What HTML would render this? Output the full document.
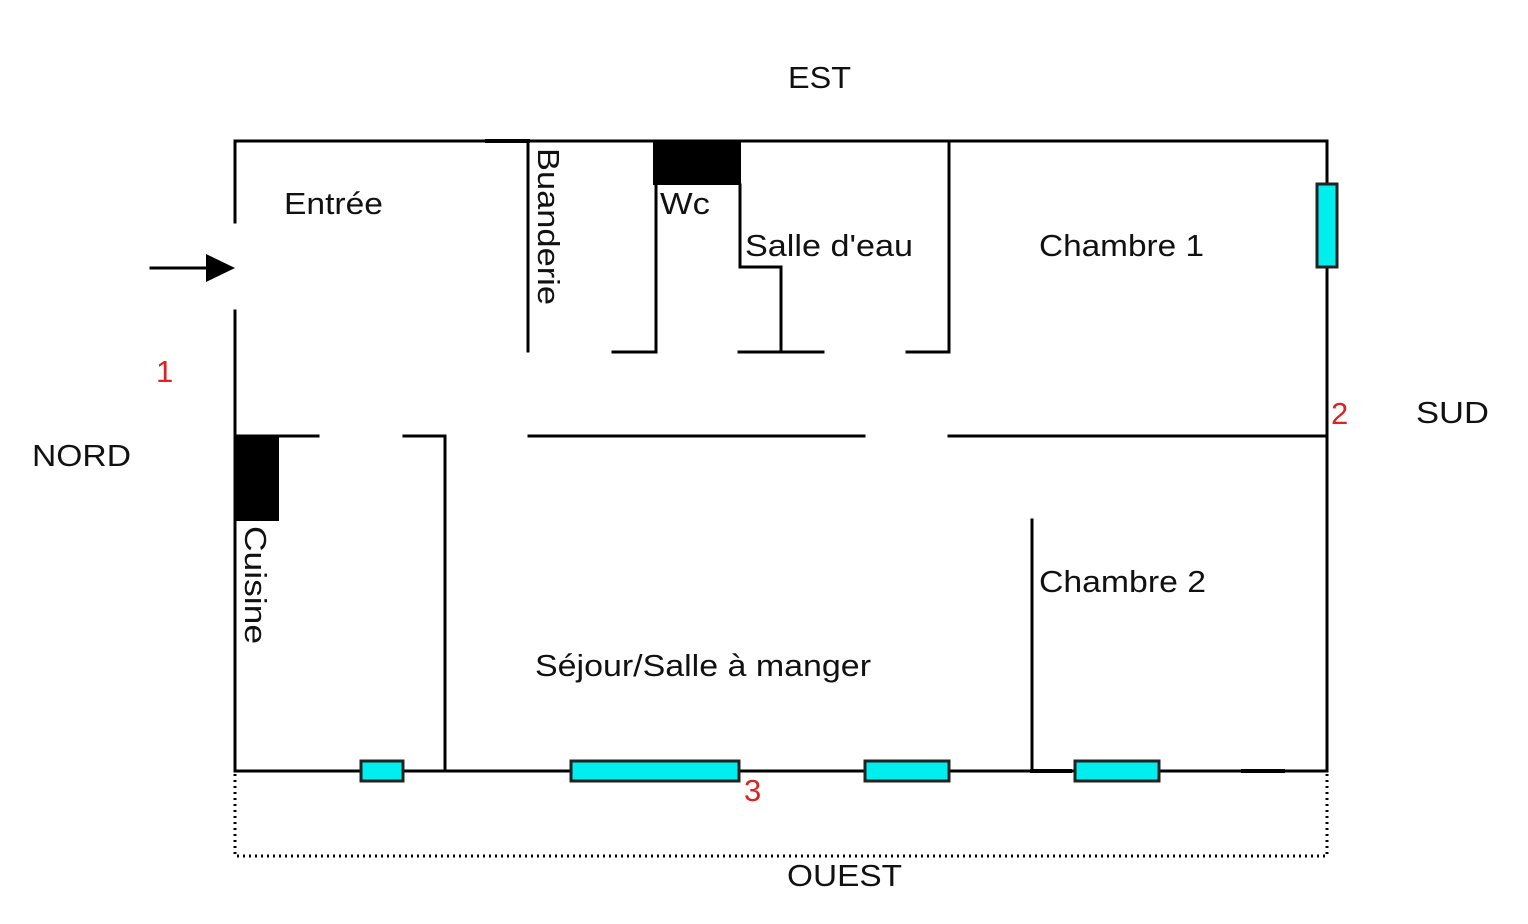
<!DOCTYPE html>
<html><head><meta charset="utf-8"><style>html,body{margin:0;padding:0;background:#fff}svg{display:block}</style></head>
<body>
<svg width="1528" height="924" viewBox="0 0 1528 924" xmlns="http://www.w3.org/2000/svg" font-family="Liberation Sans, sans-serif">
<rect width="1528" height="924" fill="#fff"/>
<g stroke="#000" stroke-width="3" fill="none" stroke-linecap="square">
<!-- outer -->
<path d="M235 222 V141 H1327 V771 H235 V311"/>
<line x1="487" y1="141" x2="528" y2="141" stroke-width="4"/>
<!-- buanderie -->
<line x1="528" y1="141" x2="528" y2="351"/>
<!-- wc -->
<path d="M613 352 H656 V185"/>
<!-- salle d'eau -->
<path d="M740 185 V267 H781 V352"/>
<line x1="739" y1="352" x2="823" y2="352"/>
<path d="M907 352 H949 V141"/>
<!-- middle -->
<line x1="235" y1="436" x2="318" y2="436"/>
<path d="M404 436 H445 V771"/>
<line x1="529" y1="436" x2="864" y2="436"/>
<line x1="949" y1="436" x2="1327" y2="436"/>
<line x1="1032" y1="520" x2="1032" y2="771"/>
<line x1="1032" y1="771" x2="1070" y2="771" stroke-width="4"/>
<line x1="1243" y1="771" x2="1283" y2="771" stroke-width="4"/>
<!-- arrow -->
<line x1="151" y1="268" x2="210" y2="268"/>
</g>
<polygon points="206,254 235,268 206,282" fill="#000"/>
<rect x="653" y="141" width="88" height="44" fill="#000"/>
<rect x="234" y="435" width="45" height="86" fill="#000"/>
<g fill="#00eeee" stroke="#222" stroke-width="3">
<rect x="1317" y="184" width="20" height="83"/>
<rect x="361" y="761" width="42" height="20"/>
<rect x="571" y="761" width="168" height="20"/>
<rect x="865" y="761" width="84" height="20"/>
<rect x="1075" y="761" width="84" height="20"/>
</g>
<path d="M235 774 V856 H1327 V774" fill="none" stroke="#000" stroke-width="3" stroke-dasharray="2 4"/>
<g fill="#111" font-size="31">
<text x="788" y="88" textLength="63" lengthAdjust="spacingAndGlyphs">EST</text>
<text x="284" y="214" textLength="99" lengthAdjust="spacingAndGlyphs">Entrée</text>
<text x="660" y="214" textLength="50" lengthAdjust="spacingAndGlyphs">Wc</text>
<text x="745" y="256" textLength="168" lengthAdjust="spacingAndGlyphs">Salle d'eau</text>
<text x="1039" y="256" textLength="165" lengthAdjust="spacingAndGlyphs">Chambre 1</text>
<text x="1039" y="592" textLength="167" lengthAdjust="spacingAndGlyphs">Chambre 2</text>
<text x="535" y="676" textLength="336" lengthAdjust="spacingAndGlyphs">Séjour/Salle à manger</text>
<text x="32" y="466" textLength="99" lengthAdjust="spacingAndGlyphs">NORD</text>
<text x="1416" y="423" textLength="73" lengthAdjust="spacingAndGlyphs">SUD</text>
<text x="787" y="886" textLength="115" lengthAdjust="spacingAndGlyphs">OUEST</text>
<text transform="translate(538,148) rotate(90)" textLength="157" lengthAdjust="spacingAndGlyphs">Buanderie</text>
<text transform="translate(245,526) rotate(90)" textLength="118" lengthAdjust="spacingAndGlyphs">Cuisine</text>
</g>
<g fill="#d22" font-size="31">
<text x="156" y="382">1</text>
<text x="1331" y="424">2</text>
<text x="744" y="801">3</text>
</g>
</svg>
</body></html>
